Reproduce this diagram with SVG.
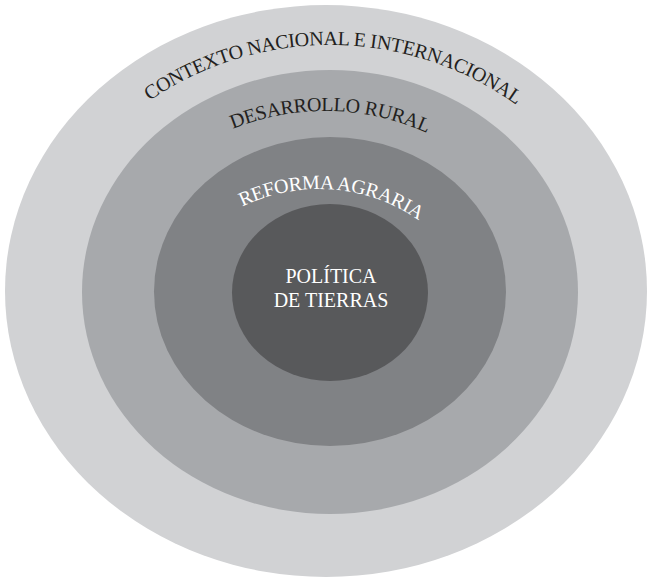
<svg xmlns="http://www.w3.org/2000/svg" width="647" height="578" viewBox="0 0 647 578">
  <style>
    .lbl { font-family: "Liberation Serif", "Times New Roman", serif; font-size: 20px; }
    .arc { letter-spacing: -0.35px; }
    .dark { fill: #231f20; }
    .light { fill: #ffffff; }
  </style>
  <defs>
    <!-- baselines for the curved ring titles -->
    <path id="arc-contexto" d="M 10,365 A 320,320 0 0 1 650,365"/>
    <path id="arc-desarrollo" d="M 78,358 A 247,247 0 0 1 572,358"/>
    <path id="arc-reforma" d="M 144,364 A 175,175 0 0 1 494,364"/>
  </defs>

  <g id="contexto">
    <ellipse cx="326" cy="291" rx="321" ry="286" fill="#d1d2d4"/>
    <text class="lbl arc dark" text-anchor="middle"><textPath href="#arc-contexto" startOffset="506">CONTEXTO NACIONAL E INTERNACIONAL</textPath></text>
  </g>

  <g id="desarrollo">
    <ellipse cx="330" cy="292" rx="248" ry="222" fill="#a7a9ac"/>
    <text class="lbl arc dark" text-anchor="middle"><textPath href="#arc-desarrollo" startOffset="393">DESARROLLO RURAL</textPath></text>
  </g>

  <g id="reforma">
    <ellipse cx="330" cy="291.5" rx="176" ry="154.5" fill="#808285"/>
    <text class="lbl arc light" text-anchor="middle"><textPath href="#arc-reforma" startOffset="288">REFORMA AGRARIA</textPath></text>
  </g>

  <g id="politica">
    <ellipse cx="330" cy="292.5" rx="98" ry="88.5" fill="#58595b"/>
    <text class="lbl light" x="331" y="283" text-anchor="middle">POLÍTICA</text>
    <text class="lbl light" x="331" y="307" text-anchor="middle">DE TIERRAS</text>
  </g>

  <g id="connectors"/>
</svg>
